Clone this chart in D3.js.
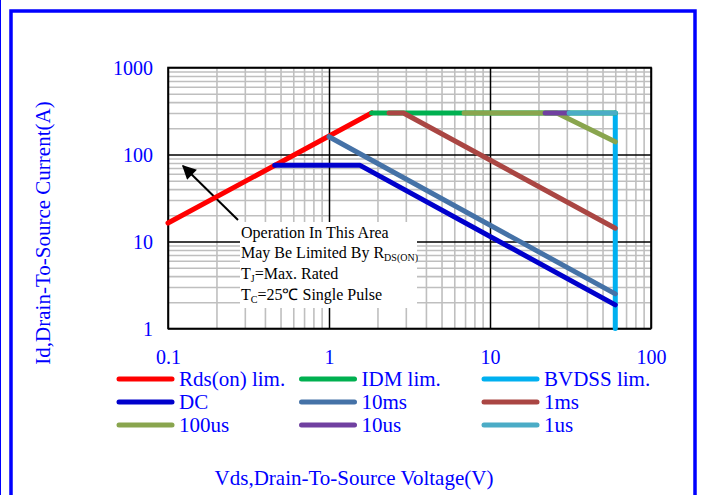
<!DOCTYPE html>
<html>
<head>
<meta charset="utf-8">
<script src="https://cdn.jsdelivr.net/npm/d3@7"></script>
<style>
  html, body { margin: 0; padding: 0; background: #fff; }
  svg { display: block; }
  text { font-family: "Liberation Serif", "Times New Roman", serif; }
</style>
</head>
<body>
<svg id="chart" width="701" height="495"></svg>
<script>
// Safe operating area: Vds (V) vs Id (A), log-log
const xTickValues = [0.1, 1, 10, 100];
const xTickLabels = ["0.1", "1", "10", "100"];
const yTickValues = [1, 10, 100, 1000];
const yTickLabels = ["1", "10", "100", "1000"];

// Limit curves, [Vds, Id]
const rdsOnLim = [[0.1, 16.3], [1.84, 300]];
const idmLim   = [[1.84, 300], [60, 300]];
const bvdssLim = [[60, 300], [60, 1]];
const dcLine   = [[0.46, 75], [1.56, 75], [60, 1.87]];
const ms10     = [[1.0, 160], [60, 2.5]];
const ms1      = [[2.36, 300], [2.9, 300], [60, 14.2]];
const us100    = [[6.9, 300], [26, 300], [60, 140]];
const us10     = [[22, 300], [31, 300]];
const us1      = [[31, 300], [60, 300]];

const legendNames = ["Rds(on) lim.", "IDM lim.", "BVDSS lim.",
                     "DC", "10ms", "1ms",
                     "100us", "10us", "1us"];
const seriesData = [rdsOnLim, idmLim, bvdssLim, dcLine, ms10, ms1, us100, us10, us1];
const seriesColors = ["#FF0000", "#00B050", "#00B0F0",
                      "#0000CC", "#4572A7", "#AA4643",
                      "#89A54E", "#7040A0", "#4BACC6"];
// drawing order (BVDSS underneath the pulse curves)
const drawOrder = [2, 0, 1, 3, 4, 5, 6, 7, 8];

const svg = d3.select("#chart");
const blue = "#0000FF";

// outer frame
svg.append("line").attr("x1", 0.5).attr("x2", 0.5).attr("y1", 0).attr("y2", 495)
  .attr("stroke", blue).attr("stroke-width", 1);
svg.append("rect").attr("x", 11).attr("y", 11).attr("width", 684).attr("height", 520)
  .attr("fill", "none").attr("stroke", blue).attr("stroke-width", 3.5);

const plotLeft = 168, plotRight = 651, plotTop = 67.5, plotBottom = 328.5;
const x = d3.scaleLog().domain([0.1, 100]).range([plotLeft, plotRight]);
const y = d3.scaleLog().domain([1, 1000]).range([plotBottom, plotTop]);

// grid
const minorX = [], minorY = [];
[0.1, 1, 10].forEach(d => { for (let k = 2; k <= 9; k++) minorX.push(+(d * k).toPrecision(3)); });
[1, 10, 100].forEach(d => { for (let k = 2; k <= 9; k++) minorY.push(+(d * k).toPrecision(3)); });

const grid = svg.append("g");
grid.append("g").attr("transform", `translate(0,${plotBottom})`)
  .call(d3.axisBottom(x).tickValues(minorX).tickSize(-(plotBottom - plotTop)).tickFormat(""))
  .call(g => g.select(".domain").remove())
  .call(g => g.selectAll("line").attr("stroke", "#BFBFBF").attr("stroke-width", 1.6));
grid.append("g").attr("transform", `translate(${plotLeft},0)`)
  .call(d3.axisLeft(y).tickValues(minorY).tickSize(-(plotRight - plotLeft)).tickFormat(""))
  .call(g => g.select(".domain").remove())
  .call(g => g.selectAll("line").attr("stroke", "#BFBFBF").attr("stroke-width", 1.6));
grid.append("g").attr("transform", `translate(0,${plotBottom})`)
  .call(d3.axisBottom(x).tickValues(xTickValues).tickSize(-(plotBottom - plotTop)).tickFormat(""))
  .call(g => g.select(".domain").remove())
  .call(g => g.selectAll("line").attr("stroke", "#000").attr("stroke-width", 1.5));
grid.append("g").attr("transform", `translate(${plotLeft},0)`)
  .call(d3.axisLeft(y).tickValues(yTickValues).tickSize(-(plotRight - plotLeft)).tickFormat(""))
  .call(g => g.select(".domain").remove())
  .call(g => g.selectAll("line").attr("stroke", "#000").attr("stroke-width", 1.5));
svg.append("rect").attr("x", plotLeft).attr("y", plotTop)
  .attr("width", plotRight - plotLeft).attr("height", plotBottom - plotTop)
  .attr("fill", "none").attr("stroke", "#000").attr("stroke-width", 1.6);

// annotation box
const note = svg.append("g");
note.append("rect").attr("x", 240).attr("y", 222).attr("width", 177).attr("height", 86).attr("fill", "#fff");
const noteText = note.append("text").attr("font-size", 16).attr("fill", "#000");
const nx = 241;
noteText.append("tspan").attr("x", nx).attr("y", 237.5).text("Operation In This Area");
noteText.append("tspan").attr("x", nx).attr("y", 258).text("May Be Limited By R");
noteText.append("tspan").attr("font-size", 10).attr("dy", 3).text("DS(ON)");
noteText.append("tspan").attr("x", nx).attr("y", 279).text("T");
noteText.append("tspan").attr("font-size", 10).attr("dy", 3).text("J");
noteText.append("tspan").attr("dy", -3).text("=Max. Rated");
noteText.append("tspan").attr("x", nx).attr("y", 299.5).text("T");
noteText.append("tspan").attr("font-size", 10).attr("dy", 3).text("C");
noteText.append("tspan").attr("dy", -3).text("=25℃ Single Pulse");

// arrow
svg.append("defs").append("marker").attr("id", "arrowhead")
  .attr("viewBox", "0 0 10 10").attr("refX", 9).attr("refY", 5)
  .attr("markerWidth", 8.5).attr("markerHeight", 7).attr("markerUnits", "strokeWidth")
  .attr("orient", "auto")
  .append("path").attr("d", "M0,0 L10,5 L0,10 Z").attr("fill", "#000");
svg.append("line").attr("x1", 238).attr("y1", 220).attr("x2", 183).attr("y2", 166)
  .attr("stroke", "#000").attr("stroke-width", 2).attr("marker-end", "url(#arrowhead)");

// curves
const line = d3.line().x(d => x(d[0])).y(d => y(d[1]));
const curves = svg.append("g");
drawOrder.forEach(i => {
  curves.append("path").datum(seriesData[i]).attr("d", line)
    .attr("fill", "none").attr("stroke", seriesColors[i]).attr("stroke-width", 5)
    .attr("stroke-linecap", "round").attr("stroke-linejoin", "round");
});

// tick labels
svg.append("g").attr("transform", `translate(0,${plotBottom})`)
  .call(d3.axisBottom(x).tickValues(xTickValues).tickSize(0).tickFormat((d, i) => xTickLabels[i]))
  .call(g => g.select(".domain").remove())
  .call(g => g.selectAll("text").attr("y", 35).attr("dy", null)
    .attr("font-family", "Liberation Serif, Times New Roman, serif")
    .attr("font-size", 20).attr("fill", blue));
svg.append("g").attr("transform", `translate(${plotLeft},0)`)
  .call(d3.axisLeft(y).tickValues(yTickValues).tickSize(0).tickPadding(15).tickFormat((d, i) => yTickLabels[i]))
  .call(g => g.select(".domain").remove())
  .call(g => g.selectAll("text").attr("dy", 6.8)
    .attr("font-family", "Liberation Serif, Times New Roman, serif")
    .attr("font-size", 20).attr("fill", blue));

// axis titles
svg.append("text").attr("transform", "translate(50,233) rotate(-90)")
  .attr("text-anchor", "middle").attr("font-size", 21).attr("fill", blue)
  .text("Id,Drain-To-Source Current(A)");
svg.append("text").attr("x", 354).attr("y", 485)
  .attr("text-anchor", "middle").attr("font-size", 21).attr("fill", blue)
  .text("Vds,Drain-To-Source Voltage(V)");

// legend
const legX = [117, 299.5, 482];
const legY = [379, 402, 425];
const legend = svg.append("g");
legendNames.forEach((name, i) => {
  const cx = legX[i % 3], cy = legY[Math.floor(i / 3)];
  legend.append("line").attr("x1", cx + 2).attr("x2", cx + 55).attr("y1", cy).attr("y2", cy)
    .attr("stroke", seriesColors[i]).attr("stroke-width", 5).attr("stroke-linecap", "round");
  legend.append("text").attr("x", cx + 62).attr("y", cy + 7)
    .attr("font-size", 21).attr("fill", blue).text(name);
});
</script>
</body>
</html>
